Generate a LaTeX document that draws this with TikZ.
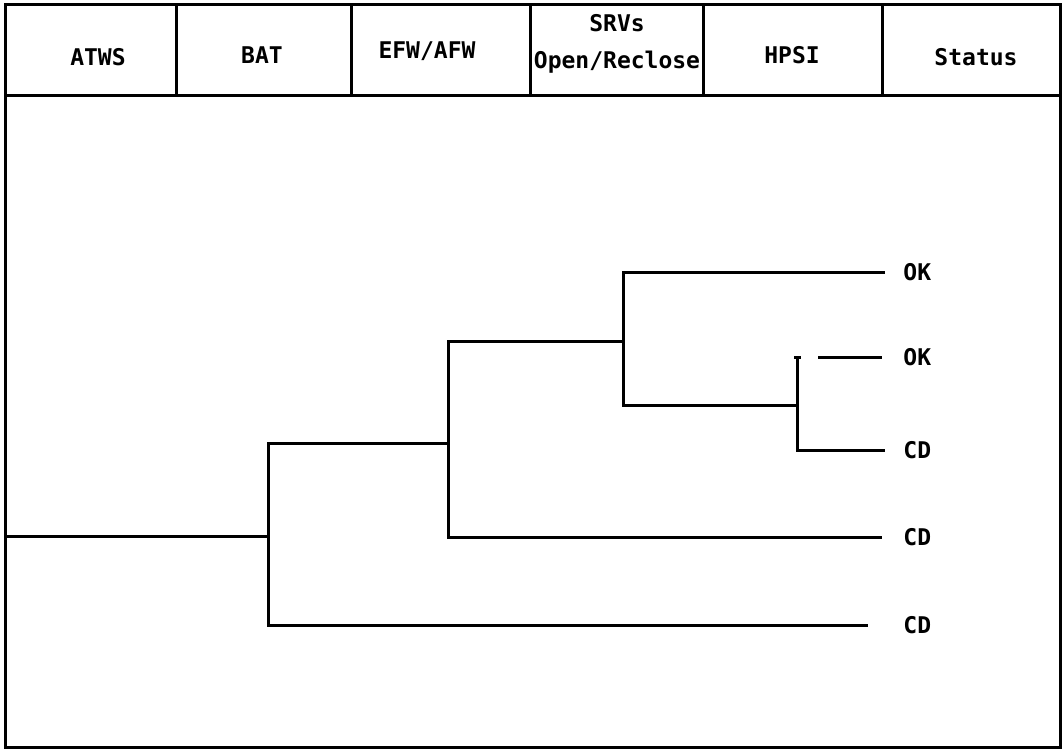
\documentclass[tikz,border=0pt]{standalone}
\usepackage{fontspec}
\setmonofont{DejaVu Sans Mono}
\usetikzlibrary{positioning}
\tikzset{
  etframe/.style={line width=1.5pt, draw=black},
  etbranch/.style={line width=1.5pt, draw=black},
  ethead/.style={font=\ttfamily\bfseries\fontsize{11.5}{18.5}\selectfont, inner sep=0pt, align=center},
  etend/.style={font=\ttfamily\bfseries\fontsize{11.5}{13}\selectfont, inner sep=0pt, anchor=west}
}

\begin{document}
\begin{tikzpicture}[x=0.5pt,y=-0.5pt]
  \useasboundingbox (0,0) rectangle (1064,749);
  % frame and heading row
  \draw[etframe] (5,5) rectangle (1060,747);
  \draw[etframe] (5,96) -- (1060,96);
  \foreach \x in {176,351,530,703,882}
    \draw[etframe] (\x,5) -- (\x,96);
  \node[ethead] (hATWS) at (98,57) {ATWS};
  \node[ethead] (hBAT) at (262,55) {BAT};
  \node[ethead] (hEFW) at (427,51) {EFW/AFW};
  \node[ethead] (hSRV) at (617,44) {SRVs\\Open/Reclose};
  \node[ethead] (hHPSI) at (792,55) {HPSI};
  \node[ethead] (hStat) at (976,57) {Status};
  % branch points
  \coordinate (init) at (5,536);
  \coordinate (nBAT) at (268,536);
  \coordinate (nEFW) at (448,443);
  \coordinate (nSRV) at (623,341);
  \coordinate (nHPSI) at (797,405);
  % end states
  \node[etend] (s1) at (903,272) {OK};
  \node[etend] (s2) at (903,357) {OK};
  \node[etend] (s3) at (903,450) {CD};
  \node[etend] (s4) at (903,537) {CD};
  \node[etend] (s5) at (903,625) {CD};
  % tree
  \draw[etbranch] (init) -- (nBAT);
  \draw[etbranch] (nBAT) |- (nEFW);
  \draw[etbranch] (nBAT) |- ([xshift=-17.5pt]s5.west);
  \draw[etbranch] (nEFW) |- (nSRV);
  \draw[etbranch] (nEFW) |- ([xshift=-10.5pt]s4.west);
  \draw[etbranch] (nSRV) |- ([xshift=-9pt]s1.west);
  \draw[etbranch] (nSRV) |- (nHPSI);
  \draw[etbranch] (nHPSI) |- ([xshift=-9pt]s3.west);
  \draw[etbranch] (nHPSI) -- (nHPSI |- s2) ++(-1.5pt,0) -- ++(3.5pt,0);
  \draw[etbranch] ([xshift=-42.5pt]s2.west) -- ([xshift=-10.5pt]s2.west);
\end{tikzpicture}
\end{document}
